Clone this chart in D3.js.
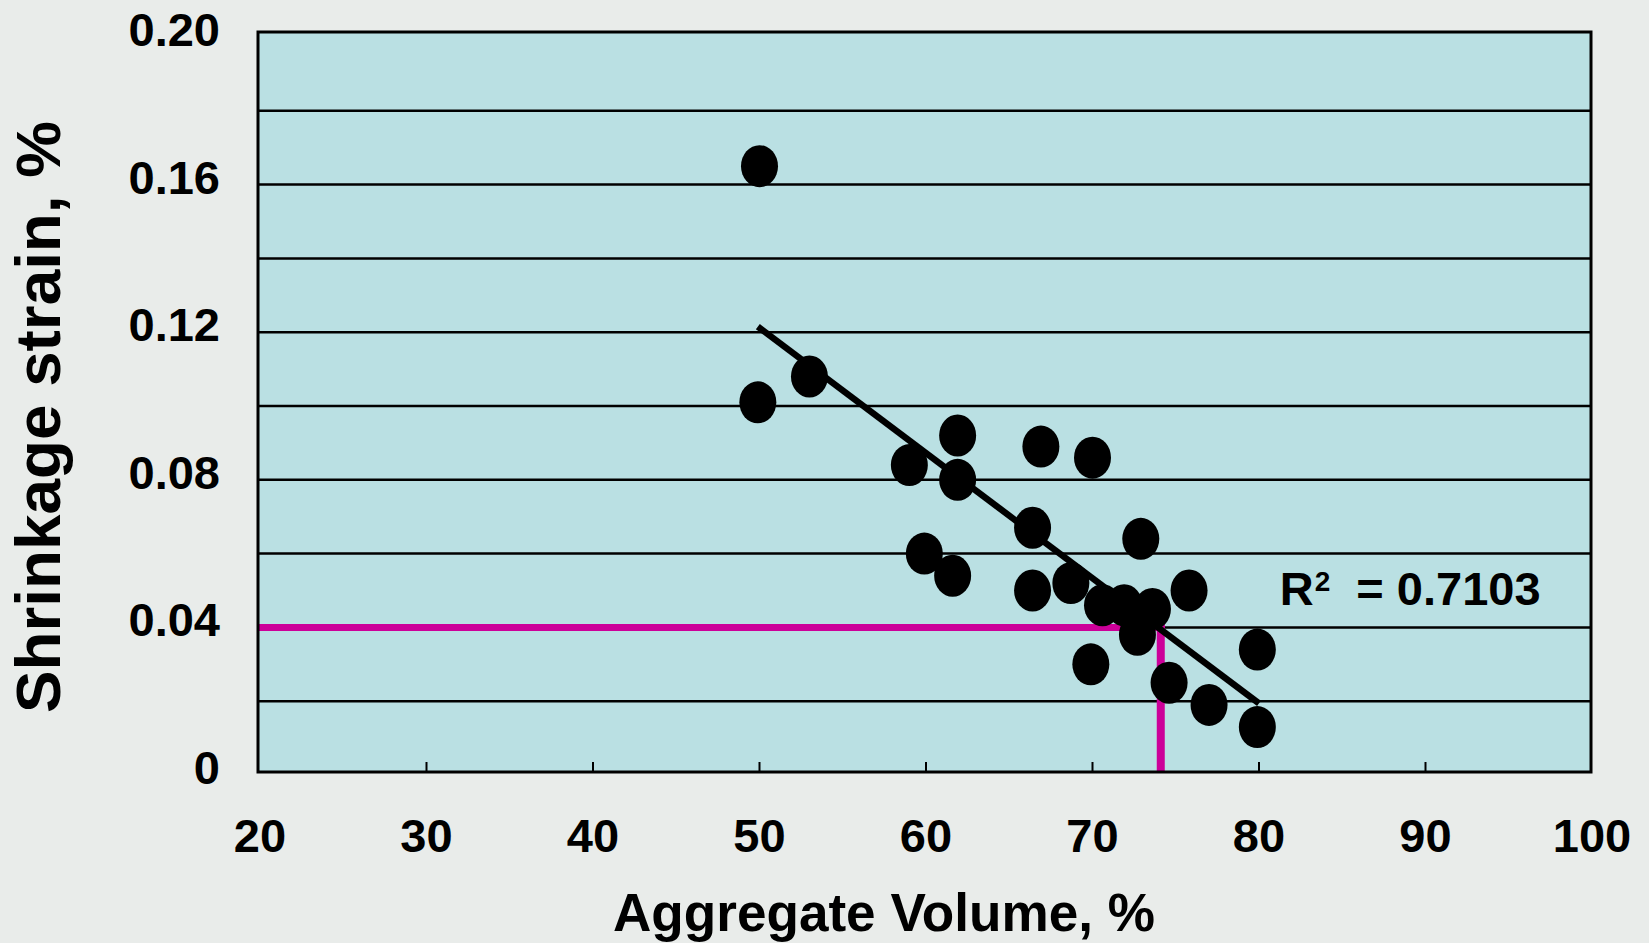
<!DOCTYPE html>
<html>
<head>
<meta charset="utf-8">
<script src="https://cdn.jsdelivr.net/npm/d3@7"></script>
<style>
    html, body { margin: 0; padding: 0; background: #e9ecea; }
    #chart { width: 1649px; height: 943px; }
    text { font-family: "Liberation Sans", Arial, sans-serif; font-weight: bold; fill: #000; }
</style>
</head>
<body>
<div id="chart"></div>
<script>
// measured points (aggregate volume %, shrinkage strain %)
const aggVolume = [50.0, 53.0, 49.9, 61.9, 59.0, 61.9, 66.9, 70.0, 66.4, 72.9, 59.9, 61.6,
    66.4, 68.7, 70.6, 71.9, 73.6, 72.7, 75.8, 69.9, 74.6, 77.0, 79.9, 79.9];
const shrinkage = [0.165, 0.108, 0.101, 0.092, 0.084, 0.080, 0.089, 0.086, 0.067, 0.064, 0.060, 0.054,
    0.050, 0.052, 0.046, 0.046, 0.045, 0.038, 0.050, 0.030, 0.025, 0.019, 0.034, 0.013];

// linear trend line end points
const trendX = [49.9, 80.0];
const trendY = [0.1215, 0.0194];

// highlighted reading (magenta guide lines)
const markX = 74.1;
const markY = 0.040;

const xTicks = [20, 30, 40, 50, 60, 70, 80, 90, 100];
const yGrid = [0.02, 0.04, 0.06, 0.08, 0.10, 0.12, 0.14, 0.16, 0.18];
const yLabels = ["0", "0.04", "0.08", "0.12", "0.16", "0.20"];
const yLabelValues = [0, 0.04, 0.08, 0.12, 0.16, 0.20];
const r2Text = "0.7103";

class ScatterVis {

    constructor(parentElement) {
        this.parentElement = parentElement;
        this.initVis();
    }

    initVis() {
        let vis = this;

        vis.margin = {top: 32, right: 58, bottom: 171, left: 258};
        vis.width = 1649 - vis.margin.left - vis.margin.right;
        vis.height = 943 - vis.margin.top - vis.margin.bottom;

        vis.root = d3.select("#" + vis.parentElement).append("svg")
            .attr("width", 1649)
            .attr("height", 943);

        vis.root.append("rect")
            .attr("width", 1649)
            .attr("height", 943)
            .attr("fill", "#e9ecea");

        vis.svg = vis.root.append("g")
            .attr("transform", `translate(${vis.margin.left}, ${vis.margin.top})`);

        // scales
        vis.x = d3.scaleLinear().domain([20, 100]).range([2, vis.width + 1]);
        vis.y = d3.scaleLinear().domain([0, 0.2]).range([vis.height + 3, 5]);

        vis.updateVis();
    }

    updateVis() {
        let vis = this;

        // plot area
        vis.svg.append("rect")
            .attr("width", vis.width)
            .attr("height", vis.height)
            .attr("fill", "#bae0e3");

        // grid lines
        vis.svg.selectAll(".grid")
            .data(yGrid)
            .enter().append("line")
            .attr("class", "grid")
            .attr("x1", 0)
            .attr("x2", vis.width)
            .attr("y1", d => vis.y(d))
            .attr("y2", d => vis.y(d))
            .attr("stroke", "#000")
            .attr("stroke-width", 2.5);

        // x ticks (inside, upward)
        vis.svg.selectAll(".xtick")
            .data(xTicks.slice(1, -1))
            .enter().append("line")
            .attr("class", "xtick")
            .attr("x1", d => vis.x(d))
            .attr("x2", d => vis.x(d))
            .attr("y1", vis.height)
            .attr("y2", vis.height - 10)
            .attr("stroke", "#000")
            .attr("stroke-width", 2);

        // magenta guide lines
        vis.svg.append("line")
            .attr("x1", 0)
            .attr("x2", vis.x(markX) + 4)
            .attr("y1", vis.y(markY))
            .attr("y2", vis.y(markY))
            .attr("stroke", "#cc0099")
            .attr("stroke-width", 7);

        vis.svg.append("line")
            .attr("x1", vis.x(markX))
            .attr("x2", vis.x(markX))
            .attr("y1", vis.y(markY) - 3)
            .attr("y2", vis.height)
            .attr("stroke", "#cc0099")
            .attr("stroke-width", 8);

        // trend line
        vis.svg.append("path")
            .datum(d3.zip(trendX, trendY))
            .attr("fill", "none")
            .attr("stroke", "#000")
            .attr("stroke-width", 6.5)
            .attr("d", d3.line()
                .x(d => vis.x(d[0]))
                .y(d => vis.y(d[1]))
            );

        // points
        vis.svg.selectAll(".dot")
            .data(d3.zip(aggVolume, shrinkage))
            .enter().append("ellipse")
            .attr("class", "dot")
            .attr("cx", d => vis.x(d[0]))
            .attr("cy", d => vis.y(d[1]))
            .attr("rx", 18.5)
            .attr("ry", 21)
            .attr("fill", "#000");

        // plot border
        vis.svg.append("rect")
            .attr("width", vis.width)
            .attr("height", vis.height)
            .attr("fill", "none")
            .attr("stroke", "#000")
            .attr("stroke-width", 3);

        // y tick labels
        vis.svg.selectAll(".ylabel")
            .data(yLabelValues)
            .enter().append("text")
            .attr("class", "ylabel")
            .attr("x", -38)
            .attr("y", d => vis.y(d) + 9)
            .attr("text-anchor", "end")
            .attr("font-size", 47)
            .text((d, i) => yLabels[i]);

        // x tick labels
        vis.svg.selectAll(".xlabel")
            .data(xTicks)
            .enter().append("text")
            .attr("class", "xlabel")
            .attr("x", d => vis.x(d))
            .attr("y", vis.height + 80)
            .attr("text-anchor", "middle")
            .attr("font-size", 47)
            .text(d => d);

        // R squared
        let r2 = vis.svg.append("text")
            .attr("x", vis.x(81.25))
            .attr("y", vis.y(0.0461))
            .attr("font-size", 47);
        r2.append("tspan").text("R");
        r2.append("tspan").attr("font-size", 28).attr("dy", -14).attr("dx", 1).text("2");
        r2.append("tspan").attr("dy", 14).attr("dx", 26).text("= " + r2Text);

        // axis titles
        vis.root.append("text")
            .attr("x", 884)
            .attr("y", 931)
            .attr("text-anchor", "middle")
            .attr("font-size", 53)
            .attr("textLength", 542)
            .attr("lengthAdjust", "spacingAndGlyphs")
            .text("Aggregate Volume, %");

        vis.root.append("text")
            .attr("transform", "translate(60, 417) rotate(-90)")
            .attr("text-anchor", "middle")
            .attr("font-size", 63)
            .attr("textLength", 592)
            .attr("lengthAdjust", "spacingAndGlyphs")
            .text("Shrinkage strain, %");
    }
}

new ScatterVis("chart");
</script>
</body>
</html>
